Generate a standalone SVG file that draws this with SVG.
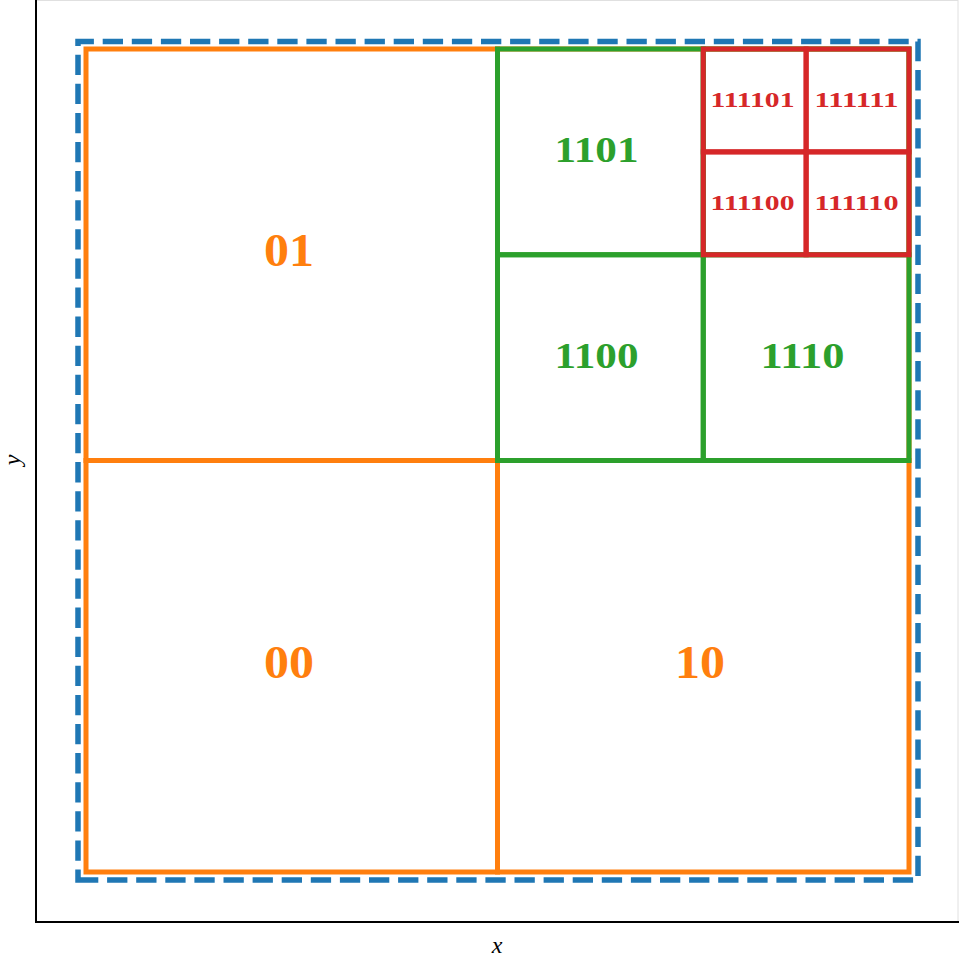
<svg xmlns="http://www.w3.org/2000/svg" width="959" height="959" viewBox="0 0 959 959">
<style>
.cell{fill:none;stroke-width:5;stroke-linejoin:miter;stroke-linecap:square}
.o{stroke:#ff7f0e}.g{stroke:#2ca02c}.r{stroke:#d62728}
.lbl{font-family:"Liberation Serif","DejaVu Serif",serif;font-weight:bold;text-anchor:middle}
.lo{fill:#ff7f0e;font-size:46px}.lg{fill:#2ca02c;font-size:35.5px}.lr{fill:#d62728;font-size:21.5px}
.ax{font-family:"Liberation Serif","DejaVu Serif",serif;font-style:italic;font-size:24px;fill:#000;text-anchor:middle}
</style>
<rect x="0" y="0" width="959" height="959" fill="#fff"/>
<rect x="36" y="0.5" width="922" height="921.5" fill="none" stroke="#e0e0e0" stroke-width="1"/>
<g id="axes">
<line x1="36" y1="0" x2="36" y2="923" stroke="#000" stroke-width="2"/>
<line x1="35" y1="922" x2="959" y2="922" stroke="#000" stroke-width="2"/>
<text class="ax" x="497" y="953">x</text>
<text class="ax" transform="translate(20,460) rotate(-90)">y</text>
</g>
<g id="root">
<path d="M78,880 H918 V41.5 H78 Z" fill="none" stroke="#1f77b4" stroke-width="5.5" stroke-dasharray="20.3 8.8"/>
</g>
<g id="cell-00"><rect class="cell o" x="86" y="460.5" width="411.5" height="411.5"/><text class="lbl lo" x="289" y="677.5" textLength="50" lengthAdjust="spacingAndGlyphs">00</text></g>
<g id="cell-01"><rect class="cell o" x="86" y="49" width="411.5" height="411.5"/><text class="lbl lo" x="289" y="266" textLength="50" lengthAdjust="spacingAndGlyphs">01</text></g>
<g id="cell-10"><rect class="cell o" x="497.5" y="460.5" width="411.5" height="411.5"/><text class="lbl lo" x="700" y="677.5" textLength="50" lengthAdjust="spacingAndGlyphs">10</text></g>
<g id="cell-11"><rect class="cell o" x="497.5" y="49" width="411.5" height="411.5"/></g>
<g id="cell-1101"><rect class="cell g" x="497.5" y="49" width="205.75" height="205.75"/><text class="lbl lg" x="596.5" y="162" textLength="84" lengthAdjust="spacingAndGlyphs">1101</text></g>
<g id="cell-1100"><rect class="cell g" x="497.5" y="254.75" width="205.75" height="205.75"/><text class="lbl lg" x="596.5" y="367.5" textLength="84" lengthAdjust="spacingAndGlyphs">1100</text></g>
<g id="cell-1110"><rect class="cell g" x="703.25" y="254.75" width="205.75" height="205.75"/><text class="lbl lg" x="802.5" y="367.5" textLength="84" lengthAdjust="spacingAndGlyphs">1110</text></g>
<g id="cell-1111"><rect class="cell g" x="703.25" y="49" width="205.75" height="205.75"/></g>
<g id="cell-111101"><rect class="cell r" x="703.25" y="49" width="102.875" height="102.875"/><text class="lbl lr" x="752.5" y="107" textLength="84" lengthAdjust="spacingAndGlyphs">111101</text></g>
<g id="cell-111111"><rect class="cell r" x="806.125" y="49" width="102.875" height="102.875"/><text class="lbl lr" x="856.5" y="107" textLength="84" lengthAdjust="spacingAndGlyphs">111111</text></g>
<g id="cell-111100"><rect class="cell r" x="703.25" y="151.875" width="102.875" height="102.875"/><text class="lbl lr" x="752.5" y="210" textLength="84" lengthAdjust="spacingAndGlyphs">111100</text></g>
<g id="cell-111110"><rect class="cell r" x="806.125" y="151.875" width="102.875" height="102.875"/><text class="lbl lr" x="856.5" y="210" textLength="84" lengthAdjust="spacingAndGlyphs">111110</text></g>
<g id="connectors"></g>
</svg>
